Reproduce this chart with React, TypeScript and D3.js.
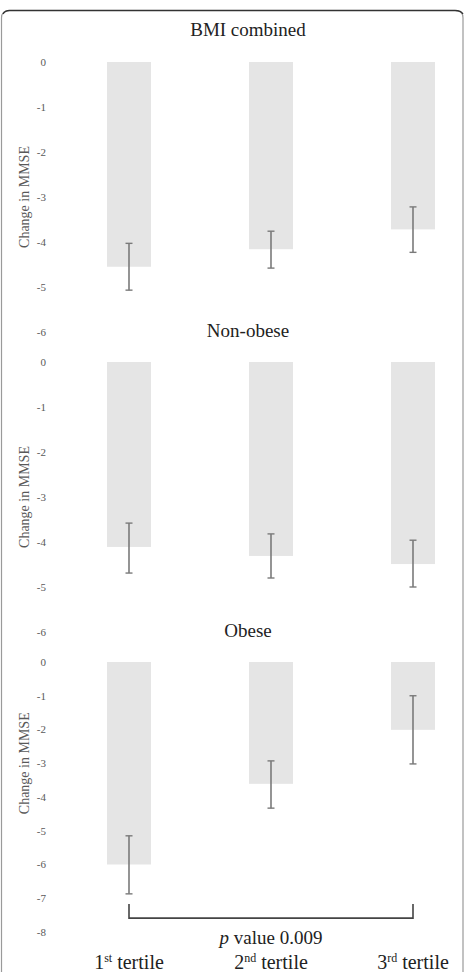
import { useEffect, useRef } from 'react';
import * as d3 from 'd3';

// tertile categories (x axis)
const categories = ['1st', '2nd', '3rd'];
const suffixes = ['st', 'nd', 'rd'];

const panelTitles = ['BMI combined', 'Non-obese', 'Obese'];

// mean change in MMSE per tertile
const combinedMeans = [-4.55, -4.16, -3.72];
const nonObeseMeans = [-4.11, -4.31, -4.49];
const obeseMeans = [-6.0, -3.61, -2.01];

// error bar ends (upper, lower)
const combinedUpper = [-4.03, -3.76, -3.22];
const combinedLower = [-5.07, -4.58, -4.23];
const nonObeseUpper = [-3.58, -3.82, -3.96];
const nonObeseLower = [-4.69, -4.8, -5.0];
const obeseUpper = [-5.15, -2.93, -1.0];
const obeseLower = [-6.87, -4.33, -3.02];

// y axis ticks per panel
const ticksSix = [0, -1, -2, -3, -4, -5, -6];
const ticksEight = [0, -1, -2, -3, -4, -5, -6, -7, -8];

const pValueText = '0.009';

export default function App() {
  const svgRef = useRef<SVGSVGElement>(null);

  useEffect(() => {
    const W = 465;
    const H = 972;
    const svg = d3.select(svgRef.current).attr('width', W).attr('height', H);
    svg.selectAll('*').remove();

    const serif = "'Liberation Serif', 'Times New Roman', serif";

    // outer frame (rounded top corners, open bottom)
    svg.append('path')
      .attr('d', 'M1.5,972 L1.5,18 Q1.5,10.5 9.5,10.5 L455,10.5 Q463,10.5 463,18 L463,972')
      .attr('fill', 'none')
      .attr('stroke', '#9a9a9a')
      .attr('stroke-width', 1.2);
    svg.append('path')
      .attr('d', 'M3,14 Q5,10.5 9.5,10.5 L455,10.5 Q461,10.5 463,14')
      .attr('fill', 'none')
      .attr('stroke', '#333')
      .attr('stroke-width', 1.3);

    const x = d3.scalePoint<string>()
      .domain(categories)
      .range([129, 413]);
    const barW = 44;

    const panels = [
      { title: panelTitles[0], means: combinedMeans, up: combinedUpper, lo: combinedLower, ticks: ticksSix, top: 62, titleY: 36 },
      { title: panelTitles[1], means: nonObeseMeans, up: nonObeseUpper, lo: nonObeseLower, ticks: ticksSix, top: 362, titleY: 337 },
      { title: panelTitles[2], means: obeseMeans, up: obeseUpper, lo: obeseLower, ticks: ticksEight, top: 662, titleY: 637 },
    ];

    let lastY: any = null;

    panels.forEach(p => {
      const minTick = d3.min(p.ticks) as number;
      const y = d3.scaleLinear().domain([0, minTick]).range([p.top, p.top + 270]);
      lastY = y;
      const g = svg.append('g').attr('font-family', serif);

      // title
      g.append('text')
        .attr('x', 248)
        .attr('y', p.titleY)
        .attr('text-anchor', 'middle')
        .attr('font-size', 19)
        .attr('fill', '#222')
        .text(p.title);

      // tick labels
      g.selectAll('.tick-label')
        .data(p.ticks)
        .enter()
        .append('text')
        .attr('class', 'tick-label')
        .attr('x', 46)
        .attr('y', d => y(d))
        .attr('dy', '0.35em')
        .attr('text-anchor', 'end')
        .attr('font-size', 11)
        .attr('fill', '#595959')
        .text(d => String(d));

      // y axis title
      const midY = y(-3);
      g.append('text')
        .attr('transform', `translate(29,${midY}) rotate(-90)`)
        .attr('text-anchor', 'middle')
        .attr('font-size', 14)
        .attr('fill', '#595959')
        .text('Change in MMSE');

      // bars
      g.selectAll('.bar')
        .data(p.means)
        .enter()
        .append('rect')
        .attr('class', 'bar')
        .attr('x', (_, i) => (x(categories[i]) as number) - barW / 2)
        .attr('y', y(0))
        .attr('width', barW)
        .attr('height', d => y(d) - y(0))
        .attr('fill', '#e5e5e5');

      // error bars
      const eb = g.selectAll('.err')
        .data(p.means.map((m, i) => ({ cat: categories[i], up: p.up[i], lo: p.lo[i] })))
        .enter()
        .append('g')
        .attr('class', 'err');
      eb.append('line')
        .attr('x1', d => x(d.cat) as number)
        .attr('x2', d => x(d.cat) as number)
        .attr('y1', d => y(d.up))
        .attr('y2', d => y(d.lo))
        .attr('stroke', '#7a7a7a')
        .attr('stroke-width', 1.6);
      ['up', 'lo'].forEach(k => {
        eb.append('line')
          .attr('x1', d => (x(d.cat) as number) - 3.5)
          .attr('x2', d => (x(d.cat) as number) + 3.5)
          .attr('y1', d => y((d as any)[k]))
          .attr('y2', d => y((d as any)[k]))
          .attr('stroke', '#7a7a7a')
          .attr('stroke-width', 1.4);
      });
    });

    // significance bracket under obese panel
    const y3 = lastY;
    const bx1 = x(categories[0]) as number;
    const bx2 = x(categories[2]) as number;
    const yTop = y3(-7.17);
    const yBot = y3(-7.59);
    svg.append('path')
      .attr('d', `M${bx1},${yTop} L${bx1},${yBot} L${bx2},${yBot} L${bx2},${yTop}`)
      .attr('fill', 'none')
      .attr('stroke', '#444')
      .attr('stroke-width', 1.6);

    const pt = svg.append('text')
      .attr('x', (bx1 + bx2) / 2)
      .attr('y', 944)
      .attr('text-anchor', 'middle')
      .attr('font-family', serif)
      .attr('font-size', 19)
      .attr('fill', '#222');
    pt.append('tspan').attr('font-style', 'italic').text('p');
    pt.append('tspan').text(` value ${pValueText}`);

    // x axis labels
    categories.forEach((c, i) => {
      const t = svg.append('text')
        .attr('x', x(c) as number)
        .attr('y', 969)
        .attr('text-anchor', 'middle')
        .attr('font-family', serif)
        .attr('font-size', 20)
        .attr('fill', '#222');
      t.append('tspan').text(c.replace(suffixes[i], ''));
      t.append('tspan').attr('dy', -7).attr('font-size', 12).text(suffixes[i]);
      t.append('tspan').attr('dy', 7).text(' tertile');
    });
  }, []);

  return (
    <div style={{ position: 'absolute', left: 0, top: 0, width: 465, height: 972, background: '#fff' }}>
      <svg ref={svgRef} style={{ display: 'block' }}></svg>
    </div>
  );
}
